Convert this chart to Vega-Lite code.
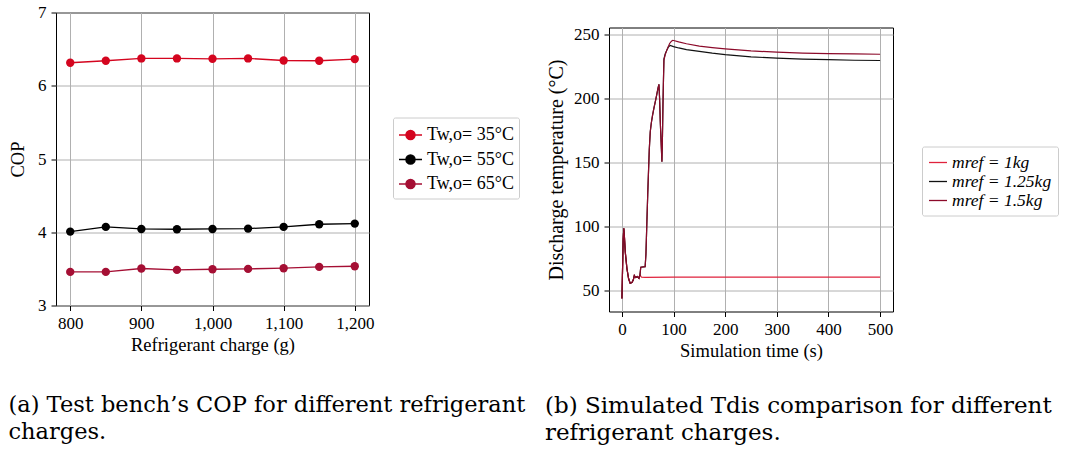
{
  "$schema": "https://vega.github.io/schema/vega-lite/v6.json",
  "padding": {"left": 8, "top": 2.5, "right": 0, "bottom": 0},
  "spacing": 20,
  "resolve": {"scale": {"color": "independent"}, "legend": {"color": "independent"}},
  "title": {"text": ["(b) Simulated Tdis comparison for different", "\u00a0\u00a0\u00a0\u00a0\u00a0\u00a0\u00a0refrigerant charges."], "orient": "bottom", "anchor": "start", "offset": 0, "dx": 537, "dy": -49, "fontSize": 23},
  "config": {
    "view": {"stroke": "#000000", "strokeWidth": 1},
    "axis": {
      "labelFont": "Liberation Serif", "labelFontSize": 17, "labelColor": "#000000",
      "titleFont": "Liberation Serif", "titleFontSize": 18.5, "titleFontWeight": "normal", "titleColor": "#000000",
      "tickColor": "#000000", "tickSize": 5, "domain": false,
      "gridColor": "#b0b0b0", "gridWidth": 1, "labelPadding": 5
    },
    "legend": {
      "labelFont": "Liberation Serif", "labelColor": "#000000",
      "strokeColor": "#cccccc", "fillColor": "#ffffff", "cornerRadius": 2
    },
    "title": {"font": "DejaVu Serif", "fontSize": 22.5, "fontWeight": "normal", "color": "#000000", "anchor": "start", "lineHeight": 27}
  },
  "hconcat": [
    {
      "width": 313, "height": 293,
      "title": {"text": ["(a) Test bench’s COP for different refrigerant", "\u00a0\u00a0\u00a0\u00a0\u00a0\u00a0\u00a0charges."], "orient": "bottom", "offset": 40},
      "data": {"values": [
        {"charge": 800, "COP": 6.314, "series": "Tw,o= 35°C"},
        {"charge": 850, "COP": 6.341, "series": "Tw,o= 35°C"},
        {"charge": 900, "COP": 6.373, "series": "Tw,o= 35°C"},
        {"charge": 950, "COP": 6.373, "series": "Tw,o= 35°C"},
        {"charge": 1000, "COP": 6.368, "series": "Tw,o= 35°C"},
        {"charge": 1050, "COP": 6.373, "series": "Tw,o= 35°C"},
        {"charge": 1100, "COP": 6.345, "series": "Tw,o= 35°C"},
        {"charge": 1150, "COP": 6.341, "series": "Tw,o= 35°C"},
        {"charge": 1200, "COP": 6.364, "series": "Tw,o= 35°C"},
        {"charge": 800, "COP": 4.009, "series": "Tw,o= 55°C"},
        {"charge": 850, "COP": 4.073, "series": "Tw,o= 55°C"},
        {"charge": 900, "COP": 4.045, "series": "Tw,o= 55°C"},
        {"charge": 950, "COP": 4.041, "series": "Tw,o= 55°C"},
        {"charge": 1000, "COP": 4.045, "series": "Tw,o= 55°C"},
        {"charge": 1050, "COP": 4.050, "series": "Tw,o= 55°C"},
        {"charge": 1100, "COP": 4.073, "series": "Tw,o= 55°C"},
        {"charge": 1150, "COP": 4.109, "series": "Tw,o= 55°C"},
        {"charge": 1200, "COP": 4.118, "series": "Tw,o= 55°C"},
        {"charge": 800, "COP": 3.459, "series": "Tw,o= 65°C"},
        {"charge": 850, "COP": 3.459, "series": "Tw,o= 65°C"},
        {"charge": 900, "COP": 3.505, "series": "Tw,o= 65°C"},
        {"charge": 950, "COP": 3.486, "series": "Tw,o= 65°C"},
        {"charge": 1000, "COP": 3.495, "series": "Tw,o= 65°C"},
        {"charge": 1050, "COP": 3.500, "series": "Tw,o= 65°C"},
        {"charge": 1100, "COP": 3.509, "series": "Tw,o= 65°C"},
        {"charge": 1150, "COP": 3.527, "series": "Tw,o= 65°C"},
        {"charge": 1200, "COP": 3.536, "series": "Tw,o= 65°C"}
      ]},
      "encoding": {
        "x": {"field": "charge", "type": "quantitative", "title": "Refrigerant charge (g)",
              "scale": {"domain": [780, 1220], "nice": false, "zero": false},
              "axis": {"values": [800, 900, 1000, 1100, 1200], "format": ",.0f"}},
        "y": {"field": "COP", "type": "quantitative", "title": "COP",
              "scale": {"domain": [3, 7], "nice": false, "zero": false},
              "axis": {"values": [3, 4, 5, 6, 7], "titlePadding": 10}},
        "color": {"field": "series", "type": "nominal",
                  "scale": {"domain": ["Tw,o= 35°C", "Tw,o= 55°C", "Tw,o= 65°C"], "range": ["#d4051f", "#000000", "#a50f34"]},
                  "legend": {"title": null, "orient": "none", "legendX": 337, "legendY": 105,
                             "labelFontSize": 18, "padding": 5, "rowPadding": 2.5,
                             "symbolType": "M-1,0L1,0M0.4,0A0.4,0.4,0,1,1,-0.4,0A0.4,0.4,0,1,1,0.4,0Z",
                             "symbolSize": 529, "symbolStrokeWidth": 1.3, "labelOffset": 4}}
      },
      "layer": [
        {"mark": {"type": "line", "strokeWidth": 1.3}},
        {"mark": {"type": "point", "filled": true, "size": 70, "opacity": 1}}
      ]
    },
    {
      "spacing": 0,
      "vconcat": [
        {"width": 284, "height": 12, "data": {"values": []}, "mark": "point", "view": {"stroke": null}},
        {
          "width": 284, "height": 284,
          "data": {"values": [
            {"t": 0, "T": 43.5, "s": "mref = 1kg"}, {"t": 1, "T": 62, "s": "mref = 1kg"}, {"t": 2.5, "T": 90, "s": "mref = 1kg"}, {"t": 3.7, "T": 98.5, "s": "mref = 1kg"},
            {"t": 5, "T": 91, "s": "mref = 1kg"}, {"t": 6.5, "T": 80, "s": "mref = 1kg"}, {"t": 9.7, "T": 67, "s": "mref = 1kg"}, {"t": 13, "T": 59, "s": "mref = 1kg"},
            {"t": 16, "T": 55.5, "s": "mref = 1kg"}, {"t": 19.4, "T": 56, "s": "mref = 1kg"}, {"t": 22, "T": 58, "s": "mref = 1kg"}, {"t": 24, "T": 61.5, "s": "mref = 1kg"},
            {"t": 26.5, "T": 60, "s": "mref = 1kg"}, {"t": 30, "T": 60.7, "s": "mref = 1kg"}, {"t": 33, "T": 59.4, "s": "mref = 1kg"}, {"t": 35, "T": 62, "s": "mref = 1kg"},
            {"t": 38, "T": 60.2, "s": "mref = 1kg"}, {"t": 45, "T": 60.1, "s": "mref = 1kg"}, {"t": 100, "T": 60.3, "s": "mref = 1kg"}, {"t": 200, "T": 60.3, "s": "mref = 1kg"},
            {"t": 300, "T": 60.3, "s": "mref = 1kg"}, {"t": 400, "T": 60.3, "s": "mref = 1kg"}, {"t": 500, "T": 60.3, "s": "mref = 1kg"},

            {"t": 0, "T": 43.5, "s": "mref = 1.25kg"}, {"t": 1, "T": 62, "s": "mref = 1.25kg"}, {"t": 2.5, "T": 90, "s": "mref = 1.25kg"}, {"t": 3.7, "T": 98.5, "s": "mref = 1.25kg"},
            {"t": 5, "T": 91, "s": "mref = 1.25kg"}, {"t": 6.5, "T": 80, "s": "mref = 1.25kg"}, {"t": 9.7, "T": 67, "s": "mref = 1.25kg"}, {"t": 13, "T": 59, "s": "mref = 1.25kg"},
            {"t": 16, "T": 55.5, "s": "mref = 1.25kg"}, {"t": 19.4, "T": 56, "s": "mref = 1.25kg"}, {"t": 22, "T": 58, "s": "mref = 1.25kg"}, {"t": 24, "T": 61.5, "s": "mref = 1.25kg"},
            {"t": 26.5, "T": 60, "s": "mref = 1.25kg"}, {"t": 30, "T": 60.7, "s": "mref = 1.25kg"}, {"t": 33, "T": 59.4, "s": "mref = 1.25kg"}, {"t": 35, "T": 62, "s": "mref = 1.25kg"},
            {"t": 36.5, "T": 68, "s": "mref = 1.25kg"}, {"t": 45, "T": 68.5, "s": "mref = 1.25kg"}, {"t": 46.5, "T": 78, "s": "mref = 1.25kg"}, {"t": 48.4, "T": 104, "s": "mref = 1.25kg"},
            {"t": 50, "T": 125, "s": "mref = 1.25kg"}, {"t": 51.7, "T": 145, "s": "mref = 1.25kg"}, {"t": 53, "T": 160, "s": "mref = 1.25kg"}, {"t": 54.9, "T": 174, "s": "mref = 1.25kg"},
            {"t": 57, "T": 181, "s": "mref = 1.25kg"}, {"t": 59.4, "T": 187, "s": "mref = 1.25kg"}, {"t": 62, "T": 192.5, "s": "mref = 1.25kg"}, {"t": 64.6, "T": 197.4, "s": "mref = 1.25kg"},
            {"t": 67, "T": 202, "s": "mref = 1.25kg"}, {"t": 69.8, "T": 207.8, "s": "mref = 1.25kg"}, {"t": 71.7, "T": 211, "s": "mref = 1.25kg"}, {"t": 73, "T": 200, "s": "mref = 1.25kg"},
            {"t": 74.3, "T": 182, "s": "mref = 1.25kg"}, {"t": 76, "T": 165, "s": "mref = 1.25kg"}, {"t": 77.5, "T": 150.5, "s": "mref = 1.25kg"}, {"t": 78.5, "T": 170, "s": "mref = 1.25kg"},
            {"t": 79.5, "T": 195, "s": "mref = 1.25kg"}, {"t": 80.5, "T": 215, "s": "mref = 1.25kg"}, {"t": 81.4, "T": 231, "s": "mref = 1.25kg"}, {"t": 84, "T": 235, "s": "mref = 1.25kg"},
            {"t": 87.2, "T": 238, "s": "mref = 1.25kg"}, {"t": 90, "T": 240.3, "s": "mref = 1.25kg"}, {"t": 93.5, "T": 241.5, "s": "mref = 1.25kg"}, {"t": 100, "T": 240.6, "s": "mref = 1.25kg"},
            {"t": 110, "T": 239.5, "s": "mref = 1.25kg"}, {"t": 125, "T": 238.2, "s": "mref = 1.25kg"}, {"t": 150, "T": 236.8, "s": "mref = 1.25kg"}, {"t": 175, "T": 235.4, "s": "mref = 1.25kg"},
            {"t": 200, "T": 234.3, "s": "mref = 1.25kg"}, {"t": 250, "T": 232.6, "s": "mref = 1.25kg"}, {"t": 300, "T": 231.5, "s": "mref = 1.25kg"}, {"t": 350, "T": 230.8, "s": "mref = 1.25kg"},
            {"t": 400, "T": 230.3, "s": "mref = 1.25kg"}, {"t": 450, "T": 229.9, "s": "mref = 1.25kg"}, {"t": 500, "T": 229.7, "s": "mref = 1.25kg"},

            {"t": 0, "T": 43.5, "s": "mref = 1.5kg"}, {"t": 1, "T": 62, "s": "mref = 1.5kg"}, {"t": 2.5, "T": 90, "s": "mref = 1.5kg"}, {"t": 3.7, "T": 98.5, "s": "mref = 1.5kg"},
            {"t": 5, "T": 91, "s": "mref = 1.5kg"}, {"t": 6.5, "T": 80, "s": "mref = 1.5kg"}, {"t": 9.7, "T": 67, "s": "mref = 1.5kg"}, {"t": 13, "T": 59, "s": "mref = 1.5kg"},
            {"t": 16, "T": 55.5, "s": "mref = 1.5kg"}, {"t": 19.4, "T": 56, "s": "mref = 1.5kg"}, {"t": 22, "T": 58, "s": "mref = 1.5kg"}, {"t": 24, "T": 61.5, "s": "mref = 1.5kg"},
            {"t": 26.5, "T": 60, "s": "mref = 1.5kg"}, {"t": 30, "T": 60.7, "s": "mref = 1.5kg"}, {"t": 33, "T": 59.4, "s": "mref = 1.5kg"}, {"t": 35, "T": 62, "s": "mref = 1.5kg"},
            {"t": 36.5, "T": 68, "s": "mref = 1.5kg"}, {"t": 45, "T": 68.5, "s": "mref = 1.5kg"}, {"t": 46.5, "T": 78, "s": "mref = 1.5kg"}, {"t": 48.4, "T": 104, "s": "mref = 1.5kg"},
            {"t": 50, "T": 125, "s": "mref = 1.5kg"}, {"t": 51.7, "T": 145, "s": "mref = 1.5kg"}, {"t": 53, "T": 160, "s": "mref = 1.5kg"}, {"t": 54.9, "T": 174, "s": "mref = 1.5kg"},
            {"t": 57, "T": 181, "s": "mref = 1.5kg"}, {"t": 59.4, "T": 187, "s": "mref = 1.5kg"}, {"t": 62, "T": 192.5, "s": "mref = 1.5kg"}, {"t": 64.6, "T": 197.4, "s": "mref = 1.5kg"},
            {"t": 67, "T": 202, "s": "mref = 1.5kg"}, {"t": 69.8, "T": 207.8, "s": "mref = 1.5kg"}, {"t": 71.7, "T": 211, "s": "mref = 1.5kg"}, {"t": 73, "T": 200, "s": "mref = 1.5kg"},
            {"t": 74.3, "T": 182, "s": "mref = 1.5kg"}, {"t": 76, "T": 165, "s": "mref = 1.5kg"}, {"t": 77.5, "T": 150.5, "s": "mref = 1.5kg"}, {"t": 78.5, "T": 170, "s": "mref = 1.5kg"},
            {"t": 79.5, "T": 195, "s": "mref = 1.5kg"}, {"t": 80.5, "T": 215, "s": "mref = 1.5kg"}, {"t": 81.4, "T": 230, "s": "mref = 1.5kg"}, {"t": 84, "T": 234.5, "s": "mref = 1.5kg"},
            {"t": 87.2, "T": 238, "s": "mref = 1.5kg"}, {"t": 92.4, "T": 243, "s": "mref = 1.5kg"}, {"t": 96, "T": 244.8, "s": "mref = 1.5kg"}, {"t": 98.5, "T": 245.5, "s": "mref = 1.5kg"},
            {"t": 110, "T": 244.2, "s": "mref = 1.5kg"}, {"t": 125, "T": 242.8, "s": "mref = 1.5kg"}, {"t": 150, "T": 241, "s": "mref = 1.5kg"}, {"t": 175, "T": 239.8, "s": "mref = 1.5kg"},
            {"t": 200, "T": 238.8, "s": "mref = 1.5kg"}, {"t": 250, "T": 237.2, "s": "mref = 1.5kg"}, {"t": 300, "T": 236.2, "s": "mref = 1.5kg"}, {"t": 350, "T": 235.5, "s": "mref = 1.5kg"},
            {"t": 400, "T": 235.1, "s": "mref = 1.5kg"}, {"t": 450, "T": 234.8, "s": "mref = 1.5kg"}, {"t": 500, "T": 234.6, "s": "mref = 1.5kg"}
          ]},
          "encoding": {
            "x": {"field": "t", "type": "quantitative", "title": "Simulation time (s)",
                  "scale": {"domain": [-25, 525], "nice": false, "zero": false},
                  "axis": {"values": [0, 100, 200, 300, 400, 500]}},
            "y": {"field": "T", "type": "quantitative", "title": "Discharge temperature (°C)",
                  "scale": {"domain": [33.4, 255.5], "nice": false, "zero": false},
                  "axis": {"values": [50, 100, 150, 200, 250], "titlePadding": 7, "titleFontSize": 20}},
            "color": {"field": "s", "type": "nominal",
                      "scale": {"domain": ["mref = 1kg", "mref = 1.25kg", "mref = 1.5kg"], "range": ["#e0223c", "#111111", "#8c0a2a"]},
                      "legend": {"title": null, "orient": "none", "legendX": 313, "legendY": 134,
                                 "labelFontSize": 17.5, "labelFontStyle": "italic", "padding": 6, "rowPadding": 0,
                                 "symbolType": "stroke", "symbolSize": 324, "symbolStrokeWidth": 1.3, "labelOffset": 4}}
          },
          "layer": [
            {"transform": [{"filter": "datum.s === 'mref = 1kg'"}], "mark": {"type": "line", "strokeWidth": 1.2}},
            {"transform": [{"filter": "datum.s === 'mref = 1.25kg'"}], "mark": {"type": "line", "strokeWidth": 1.2}},
            {"transform": [{"filter": "datum.s === 'mref = 1.5kg'"}], "mark": {"type": "line", "strokeWidth": 1.2}}
          ]
        }
      ]
    }
  ]
}
